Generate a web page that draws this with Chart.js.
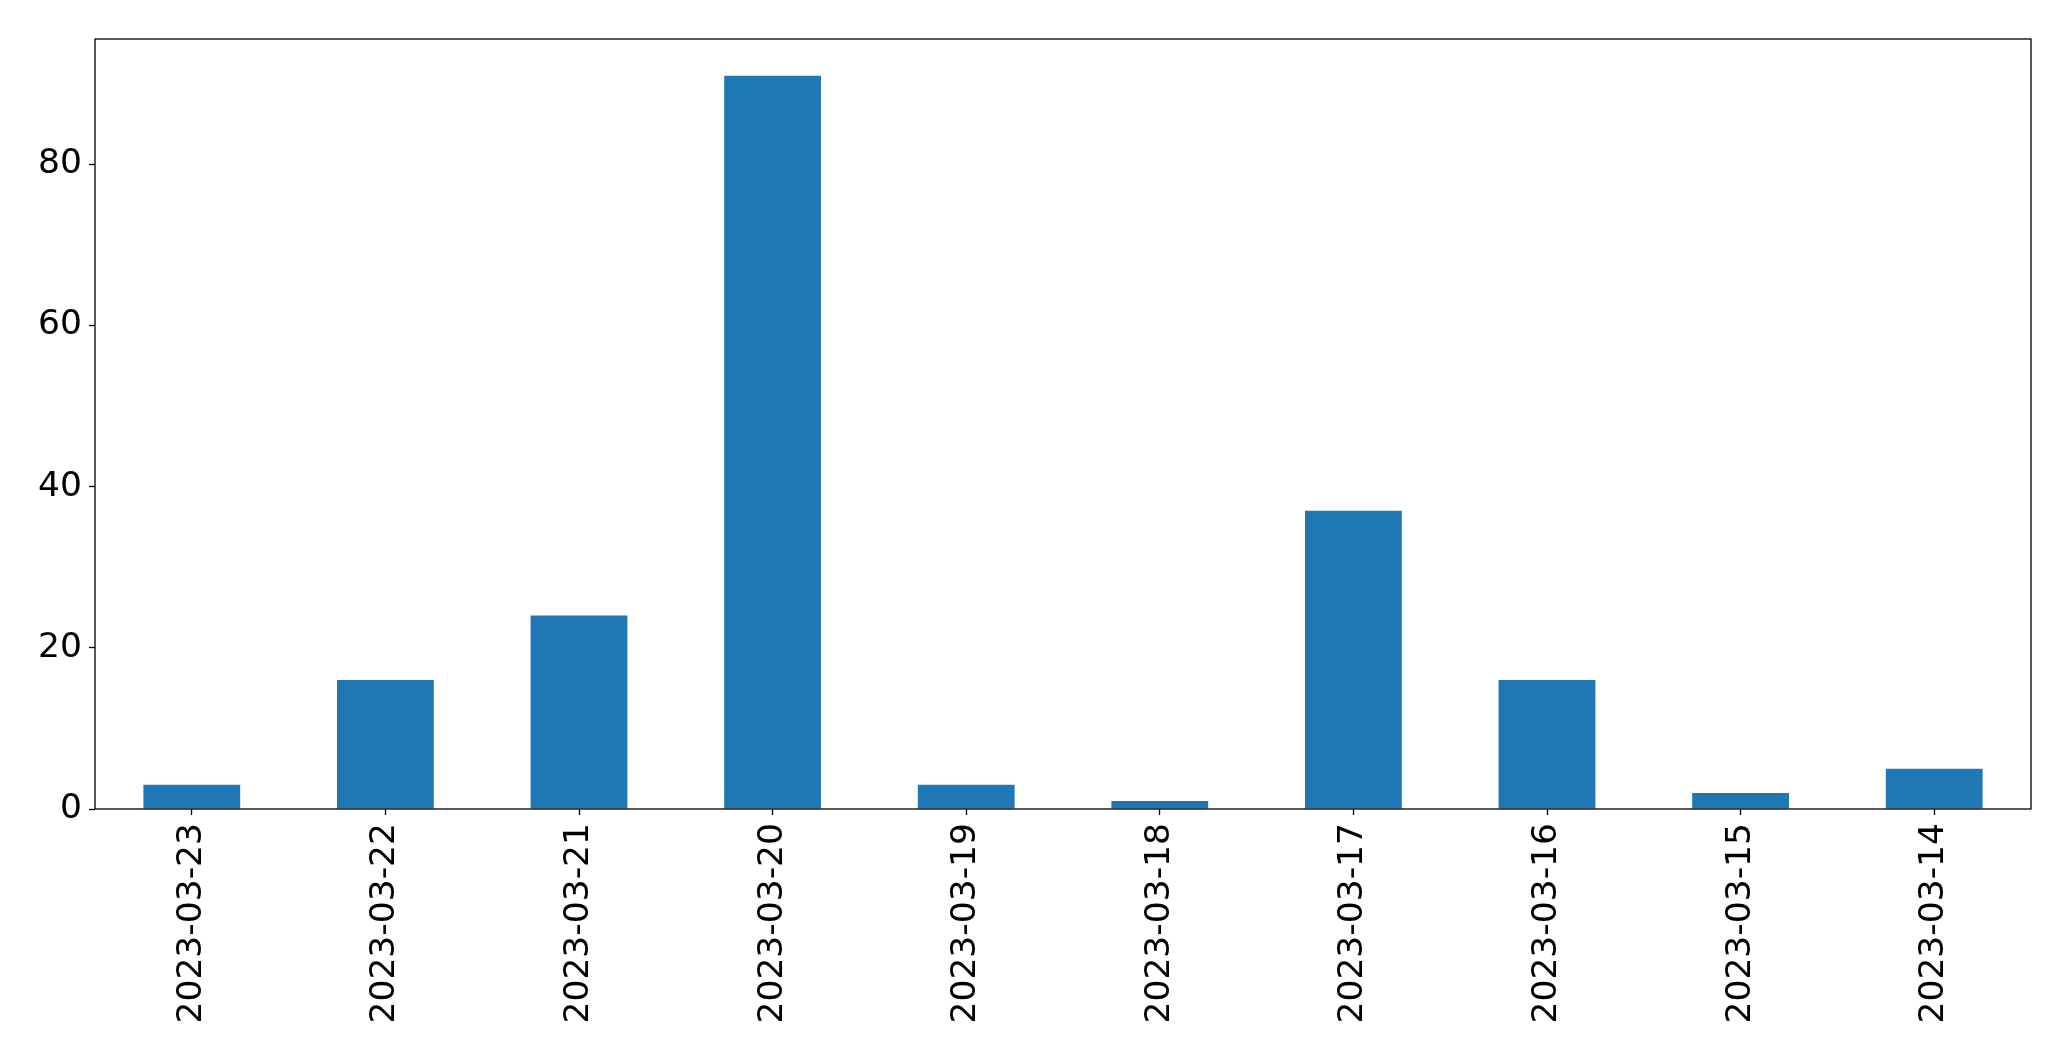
<!DOCTYPE html>
<html>
<head>
<meta charset="utf-8">
<script src="https://cdn.jsdelivr.net/npm/chart.js@4"></script>
<style>
  html, body { margin: 0; padding: 0; background: #fff; }
  #wrap { width: 2071px; height: 1061px; }
</style>
</head>
<body>
<div id="wrap"><canvas id="barChart"></canvas></div>
<script>
// Categories (dates, newest first) and counts
const dates = ["2023-03-23", "2023-03-22", "2023-03-21", "2023-03-20", "2023-03-19",
               "2023-03-18", "2023-03-17", "2023-03-16", "2023-03-15", "2023-03-14"];
const counts = [3, 16, 24, 91, 3, 1, 37, 16, 2, 5];
const yTicks = [0, 20, 40, 60, 80];

// black frame round the plot area, like matplotlib spines
const frame = {
    id: 'frame',
    afterDraw(chart) {
        const a = chart.chartArea;
        const c = chart.ctx;
        c.save();
        c.strokeStyle = '#000';
        c.lineWidth = 1.3;
        c.strokeRect(a.left, a.top, a.right - a.left, a.bottom - a.top);
        c.restore();
    }
};

const ctx = document.getElementById('barChart').getContext('2d');
const barChart = new Chart(ctx, {
    type: 'bar',
    data: {
        labels: dates,
        datasets: [{
            data: counts,
            backgroundColor: '#1f77b4',
            borderWidth: 0,
            categoryPercentage: 1.0,
            barPercentage: 0.5
        }]
    },
    options: {
        responsive: true,
        maintainAspectRatio: false,
        animation: false,
        devicePixelRatio: 1,
        layout: { padding: { top: 39, right: 40, left: 0, bottom: 0 } },
        plugins: {
            legend: { display: false },
            tooltip: { enabled: false }
        },
        scales: {
            x: {
                offset: true,
                grid: { display: true, offset: false, drawOnChartArea: false, color: '#000', tickLength: 6, tickWidth: 1.3 },
                border: { display: false },
                ticks: {
                    color: '#000',
                    font: { family: 'DejaVu Sans', size: 34.5 },
                    minRotation: 90,
                    maxRotation: 90,
                    padding: 8,
                    autoSkip: false
                },
                afterFit(scale) { scale.height = 252; }
            },
            y: {
                min: 0,
                max: 95.55,
                grid: { display: true, drawOnChartArea: false, color: '#000', tickLength: 6, tickWidth: 1.3 },
                border: { display: false },
                ticks: {
                    color: '#000',
                    font: { family: 'DejaVu Sans', size: 34.5 },
                    padding: 7
                },
                afterBuildTicks(scale) { scale.ticks = yTicks.map(v => ({ value: v })); },
                afterFit(scale) { scale.width = 95; }
            }
        }
    },
    plugins: [frame]
});
</script>
</body>
</html>
